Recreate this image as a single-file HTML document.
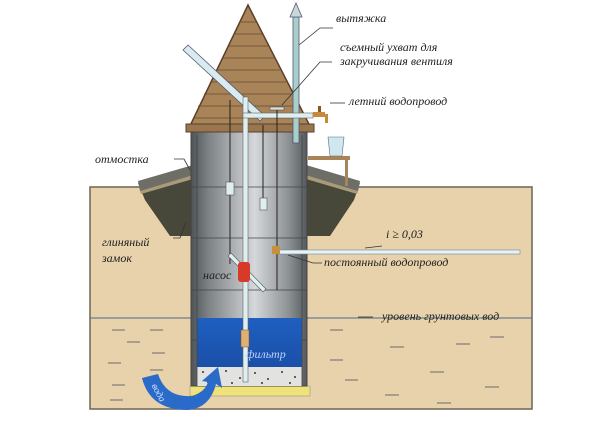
<!DOCTYPE html>
<html><head><meta charset="utf-8"><style>
body{margin:0;background:#fff;}
svg text{font-family:"Liberation Serif",serif;font-style:italic;font-size:12px;fill:#222;}
</style></head><body>
<svg width="600" height="416" viewBox="0 0 600 416" xmlns="http://www.w3.org/2000/svg">
<defs>
<linearGradient id="sh" x1="0" x2="1" y1="0" y2="0">
<stop offset="0" stop-color="#4e5356"/><stop offset="0.15" stop-color="#7d8285"/><stop offset="0.55" stop-color="#d5d8da"/><stop offset="0.85" stop-color="#8a8f92"/><stop offset="1" stop-color="#55595c"/></linearGradient>
<linearGradient id="wt" x1="0" x2="0" y1="0" y2="1"><stop offset="0" stop-color="#1f5fc0"/><stop offset="1" stop-color="#1a4fa8"/></linearGradient>
</defs>
<rect x="90" y="187" width="442" height="222" fill="#e8d2ab" stroke="#6e6455" stroke-width="1.5"/>
<line x1="90" y1="318" x2="532" y2="318" stroke="#4a6a8a" stroke-width="1"/>
<g stroke="#6a6a6a" stroke-width="1">
<line x1="112" y1="330" x2="125" y2="330"/><line x1="150" y1="330" x2="163" y2="330"/><line x1="127" y1="342" x2="140" y2="342"/><line x1="152" y1="353" x2="165" y2="353"/><line x1="108" y1="363" x2="121" y2="363"/><line x1="150" y1="370" x2="163" y2="370"/><line x1="112" y1="385" x2="125" y2="385"/><line x1="110" y1="400" x2="123" y2="400"/>
<line x1="390" y1="347" x2="404" y2="347"/><line x1="456" y1="344" x2="470" y2="344"/><line x1="490" y1="337" x2="504" y2="337"/><line x1="430" y1="372" x2="444" y2="372"/><line x1="485" y1="387" x2="499" y2="387"/><line x1="385" y1="395" x2="399" y2="395"/><line x1="437" y1="403" x2="451" y2="403"/>
<line x1="330" y1="330" x2="343" y2="330"/><line x1="330" y1="360" x2="343" y2="360"/><line x1="345" y1="380" x2="358" y2="380"/>
</g>
<polygon points="138,183 193,166 193,236 170,236 145,200" fill="#47473a"/>
<polygon points="138,181 193,165 193,175 140,191" fill="#6e6e66"/>
<polygon points="140,191 193,175 193,179 141,194" fill="#a89a7a"/>
<polygon points="360,183 306,166 306,236 330,236 354,200" fill="#47473a"/>
<polygon points="360,181 306,165 306,175 358,191" fill="#6e6e66"/>
<polygon points="358,191 306,175 306,179 357,194" fill="#a89a7a"/>
<rect x="190" y="386" width="120" height="10" fill="#f0e27a" stroke="#888" stroke-width="0.5"/>
<rect x="191" y="128" width="116" height="258" fill="url(#sh)" stroke="#444" stroke-width="1"/>
<rect x="197" y="318" width="105" height="50" fill="url(#wt)"/>
<rect x="197" y="367" width="105" height="19" fill="#e2e2e0"/>
<g fill="#333"><circle cx="203" cy="372" r="1"/><circle cx="215" cy="376" r="1"/><circle cx="226" cy="371" r="1"/><circle cx="240" cy="378" r="1"/><circle cx="255" cy="373" r="1"/><circle cx="268" cy="379" r="1"/><circle cx="282" cy="372" r="1"/><circle cx="295" cy="377" r="1"/><circle cx="208" cy="382" r="1"/><circle cx="232" cy="383" r="1"/><circle cx="262" cy="383" r="1"/><circle cx="290" cy="383" r="1"/></g>
<g stroke="#444" stroke-width="0.8"><line x1="191" y1="187" x2="307" y2="187"/><line x1="191" y1="238" x2="307" y2="238"/><line x1="191" y1="290" x2="307" y2="290"/><line x1="191" y1="340" x2="197" y2="340"/><line x1="302" y1="340" x2="307" y2="340"/><line x1="197" y1="135" x2="197" y2="386"/><line x1="302" y1="135" x2="302" y2="386"/></g>
<polygon points="248,5 188,130 312,130" fill="#a88458" stroke="#5a4028" stroke-width="1.5"/>
<g stroke="#6a4c2c" stroke-width="0.8"><line x1="240" y1="22" x2="256" y2="22"/><line x1="234" y1="34" x2="262" y2="34"/><line x1="228" y1="46" x2="268" y2="46"/><line x1="222" y1="58" x2="274" y2="58"/><line x1="216" y1="70" x2="280" y2="70"/><line x1="210" y1="82" x2="286" y2="82"/><line x1="204" y1="94" x2="292" y2="94"/><line x1="198" y1="106" x2="298" y2="106"/><line x1="193" y1="118" x2="303" y2="118"/></g>
<rect x="186" y="124" width="128" height="8" fill="#9a7650" stroke="#5a4028" stroke-width="1"/>
<rect x="293" y="17" width="6" height="126" fill="#a8d0c8" stroke="#557" stroke-width="0.8"/>
<polygon points="290,17 296,3 302,17" fill="#c8d8d8" stroke="#557" stroke-width="0.8"/>
<polygon points="183,50 188,45 265,116 260,121" fill="#d8ecf0" stroke="#557" stroke-width="0.8"/>
<rect x="243" y="97" width="5" height="285" fill="#dfeef0" stroke="#666" stroke-width="0.6"/>
<rect x="243" y="113" width="70" height="5" fill="#dfeef0" stroke="#666" stroke-width="0.6"/>
<rect x="313" y="112" width="12" height="5" fill="#c88a3a"/><rect x="318" y="106" width="3" height="6" fill="#8a5a20"/><rect x="325" y="114" width="3" height="9" fill="#c88a3a"/>
<rect x="270" y="107" width="14" height="3" fill="#ddd" stroke="#555" stroke-width="0.6"/>
<line x1="277" y1="110" x2="277" y2="290" stroke="#222" stroke-width="1"/>
<line x1="230" y1="100" x2="230" y2="264" stroke="#222" stroke-width="1"/>
<line x1="263" y1="125" x2="263" y2="210" stroke="#222" stroke-width="1"/>
<rect x="226" y="182" width="8" height="13" fill="#dfeef0" stroke="#555" stroke-width="0.6"/>
<rect x="260" y="198" width="7" height="12" fill="#dfeef0" stroke="#555" stroke-width="0.6"/>
<rect x="276" y="250" width="244" height="4" fill="#eaf2f2" stroke="#6a8a9a" stroke-width="0.6"/>
<rect x="272" y="246" width="8" height="8" fill="#c8903a"/>
<polygon points="228,256 231,253 266,289 263,292" fill="#dfeef0" stroke="#555" stroke-width="0.6"/>
<rect x="238" y="262" width="12" height="20" rx="3" fill="#d83a2a"/>
<rect x="241" y="330" width="8" height="17" fill="#e0b070" stroke="#7a5a30" stroke-width="0.5"/>
<rect x="308" y="156" width="42" height="4" fill="#a88458"/><rect x="345" y="160" width="3" height="26" fill="#a88458"/>
<polygon points="328,137 344,137 342,156 330,156" fill="#cfe8ee" stroke="#668" stroke-width="0.6"/>
<!-- water arrow: thick arc -->
<path d="M142,378 L158,374 Q166,398 192,396 Q205,392 208,382 L202,381 L218,367 L222,388 L216,384 Q210,408 188,410 Q150,410 142,378 Z" fill="#2a6ac8"/>
<text x="150" y="392" transform="rotate(62 156 390)" style="fill:#cfe0ff;font-size:10px">вода</text>
<g stroke="#333" stroke-width="0.8" fill="none">
<polyline points="299,45 320,28 333,28"/><polyline points="282,105 320,62 332,62"/><polyline points="330,103 345,103"/>
<polyline points="174,159 184,159 190,170"/><polyline points="173,238 180,238 186,222"/>
<polyline points="288,255 313,263 322,263"/><line x1="365" y1="248" x2="382" y2="246"/>
<line x1="358" y1="317" x2="373" y2="317"/>
</g>
<text x="336" y="22">вытяжка</text>
<text x="340" y="51">съемный ухват для</text>
<text x="340" y="65">закручивания вентиля</text>
<text x="349" y="105">летний водопровод</text>
<text x="95" y="163">отмостка</text>
<text x="102" y="246">глиняный</text>
<text x="102" y="262">замок</text>
<text x="203" y="279">насос</text>
<text x="386" y="238">i ≥ 0,03</text>
<text x="324" y="266">постоянный водопровод</text>
<text x="382" y="320">уровень грунтовых вод</text>
<text x="246" y="358" style="fill:#bcd0ff">фильтр</text>
</svg>
</body></html>
